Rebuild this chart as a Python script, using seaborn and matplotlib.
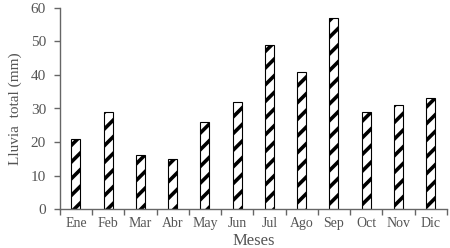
import matplotlib
matplotlib.use("Agg")
import matplotlib.pyplot as plt
import seaborn as sns
import pandas as pd

meses = ["Ene", "Feb", "Mar", "Abr", "May", "Jun", "Jul", "Ago", "Sep", "Oct", "Nov", "Dic"]
lluvia = [21, 29, 16, 15, 26, 32, 49, 41, 57, 29, 31, 33]
yticks = [0, 10, 20, 30, 40, 50, 60]

sns.set_theme(style="white")
plt.rcParams["font.family"] = ["Liberation Serif", "DejaVu Serif"]
plt.rcParams["hatch.linewidth"] = 2.6
plt.rcParams["hatch.color"] = "black"

txt = "#555555"
axc = "#666666"

df = pd.DataFrame({"Mes": meses, "Lluvia": lluvia})

fig = plt.figure(figsize=(4.5, 2.48), dpi=100)
ax = fig.add_axes([0.133, 0.157, 0.86, 0.811])

sns.barplot(data=df, x="Mes", y="Lluvia", ax=ax, color="white", width=0.28,
            edgecolor="black", linewidth=0.8, hatch="//")

ax.set_ylim(0, 60)
ax.set_xlim(-0.5, len(meses) - 0.5)
ax.set_yticks(yticks)
ax.set_yticklabels([str(v) for v in yticks], fontsize=11, color=txt)
ax.set_xticks(range(len(meses)))
ax.set_xticklabels(meses, fontsize=10, color=txt)
ax.tick_params(axis="x", length=0, pad=6)
ax.tick_params(axis="y", length=4, width=1, color=axc, direction="out", pad=6, left=True)
# boundary ticks on x
ax.set_xticks([i + 0.5 for i in range(-1, len(meses))], minor=True)
ax.tick_params(axis="x", which="minor", length=4, width=1, color=axc, direction="out", bottom=True)

for s in ["top", "right"]:
    ax.spines[s].set_visible(False)
for s in ["left", "bottom"]:
    ax.spines[s].set_color(axc)
    ax.spines[s].set_linewidth(1)

ax.set_xlabel("Meses", fontsize=12, color=txt, labelpad=2)
ax.set_ylabel("Lluvia  total (mm)", fontsize=11, color=txt, labelpad=6)

fig.savefig("out.png", dpi=100)
